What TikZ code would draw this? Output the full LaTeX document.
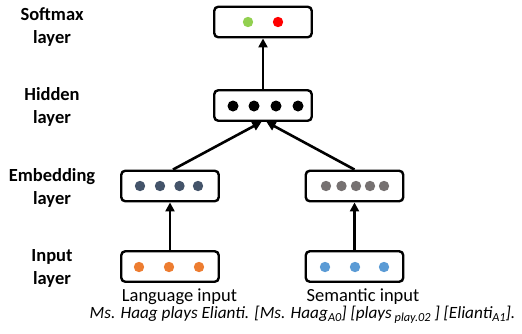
\documentclass[tikz,border=0pt]{standalone}
\usepackage{fontspec}
\setmainfont{Carlito}
\usetikzlibrary{arrows.meta}
\definecolor{cgreen}{HTML}{92D050}
\definecolor{cred}{HTML}{FF0000}
\definecolor{cnavy}{HTML}{44546A}
\definecolor{cgray}{HTML}{767171}
\definecolor{corange}{HTML}{ED7D31}
\definecolor{cblue}{HTML}{5B9BD5}
\newcommand{\capsub}[1]{\raisebox{-3pt}{\fontsize{12.3}{12}\selectfont #1}}
\tikzset{
  layerbox/.style={draw, line width=2.4pt, rounded corners=4pt, minimum width=97.5pt, minimum height=30.5pt, inner sep=0pt},
  conn/.style={line width=2.6pt, -{Triangle[length=9pt,width=9pt]}},
  layerlabel/.style={align=center, font=\fontsize{18.5}{23}\selectfont\bfseries},
  inlabel/.style={font=\fontsize{18.5}{22}\selectfont},
  caption/.style={font=\fontsize{17.2}{18}\selectfont\itshape},
}
\begin{document}
\begin{tikzpicture}[x=1pt,y=-1pt]
\useasboundingbox (0,0) rectangle (522,333);
% boxes
\node[layerbox] (soft) at (263,22) {};
\node[layerbox] (hid) at (263,105.5) {};
\node[layerbox] (embL) at (170,186) {};
\node[layerbox] (embR) at (354.5,186) {};
\node[layerbox] (inL) at (170,266.5) {};
\node[layerbox] (inR) at (354.5,266.5) {};
% dots
\fill[cgreen] (248,22) circle (5.2);
\fill[cred] (278,22) circle (5.2);
\foreach \x in {233,254,276,298} \fill[black] (\x,106) circle (5.5);
\foreach \x in {140,160,179.5,198} \fill[cnavy] (\x,186) circle (5.2);
\foreach \x in {326,341.5,356,370,384} \fill[cgray] (\x,186) circle (5.2);
\foreach \x in {139,169,199} \fill[corange] (\x,267) circle (5.2);
\foreach \x in {325,355,384} \fill[cblue] (\x,267) circle (5.2);
% connectors
\draw[conn] (inL.north) -- (embL.south);
\draw[conn] (inR.north) -- (embR.south);
\draw[conn] ([xshift=3pt]embL.north) -- ([xshift=-1.5pt]hid.south);
\draw[conn] (embR.north) -- ([xshift=3.5pt]hid.south);
\draw[conn] (hid.north) -- (soft.south);
% labels
\node[layerlabel] (lsoft) at (52,27) {Softmax\\layer};
\node[layerlabel] (lhid) at (52,107) {Hidden\\layer};
\node[layerlabel] (lemb) at (52,187.5) {Embedding\\layer};
\node[layerlabel] (lin) at (52,268.5) {Input\\layer};
\node[inlabel] (langin) at (179.5,297) {Language input};
\node[inlabel] (semin) at (363,297) {Semantic input};
\node[caption] (cap) at (302.5,315) {Ms. Haag plays Elianti. [Ms. Haag\capsub{A0}] [plays\,\capsub{play.02} ] [Elianti\capsub{A1}].};
\end{tikzpicture}
\end{document}
